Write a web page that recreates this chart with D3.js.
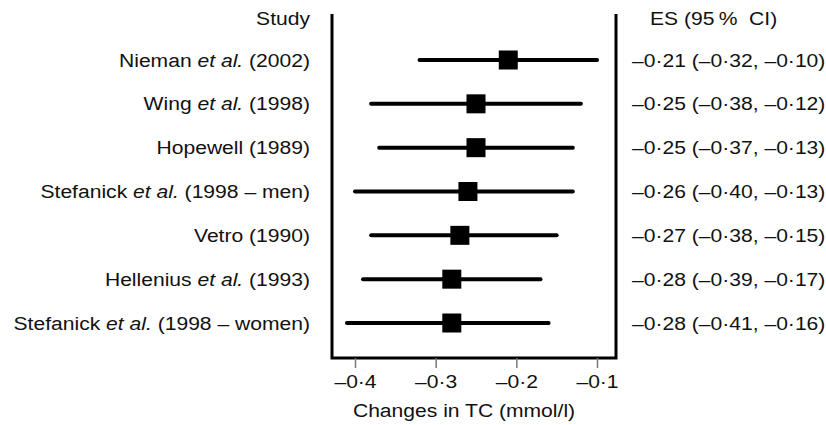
<!DOCTYPE html>
<html>
<head>
<meta charset="utf-8">
<script src="https://cdn.jsdelivr.net/npm/d3@7"></script>
<style>
  body { margin: 0; background: #fff; }
  text { font-family: "Liberation Sans", Arial, sans-serif; fill: #111; }
</style>
</head>
<body>
<div id="chart"></div>
<script>
// study labels: [plain, italic, plain]
var studies = [
  ["Nieman ", "et al.", " (2002)"],
  ["Wing ", "et al.", " (1998)"],
  ["Hopewell (1989)", "", ""],
  ["Stefanick ", "et al.", " (1998 \u2013 men)"],
  ["Vetro (1990)", "", ""],
  ["Hellenius ", "et al.", " (1993)"],
  ["Stefanick ", "et al.", " (1998 \u2013 women)"]
];
var es    = [-0.21, -0.25, -0.25, -0.26, -0.27, -0.28, -0.28];
var lower = [-0.32, -0.38, -0.37, -0.40, -0.38, -0.39, -0.41];
var upper = [-0.10, -0.12, -0.13, -0.13, -0.15, -0.17, -0.16];
var ticks = [-0.4, -0.3, -0.2, -0.1];

var width = 826, height = 425;
var fontSize = 19, stretch = 1.11;

var svg = d3.select("#chart").append("svg")
  .attr("width", width)
  .attr("height", height);

var x = d3.scaleLinear().domain([-0.4, -0.1]).range([355, 597]);
var y = d3.scalePoint().domain(d3.range(studies.length)).range([60, 323]);

var frameLeft = 332, frameRight = 616, frameTop = 14, frameBottom = 358;

// the text in the original is a little wider than Arial, so stretch it
function place(px, py) {
  return `translate(${px},${py}) scale(${stretch},1)`;
}

// frame
svg.append("path")
  .attr("d", `M${frameLeft},${frameTop}V${frameBottom}H${frameRight}V${frameTop}`)
  .attr("fill", "none")
  .attr("stroke", "#000")
  .attr("stroke-width", 3);

// axis
var xAxis = d3.axisBottom(x)
  .tickValues(ticks)
  .tickSize(10)
  .tickFormat(d => "\u2013" + d3.format(".1f")(Math.abs(d)).replace(".", "\u00b7"));

var axisG = svg.append("g")
  .attr("transform", `translate(0, ${frameBottom})`)
  .call(xAxis);
axisG.select(".domain").remove();
axisG.selectAll(".tick line").attr("stroke", "#777").attr("stroke-width", 1.5);
axisG.selectAll(".tick text")
  .attr("y", 0)
  .attr("dy", 0)
  .attr("transform", place(0, 30))
  .attr("font-size", fontSize)
  .attr("font-family", "Liberation Sans, Arial, sans-serif")
  .attr("fill", "#111");

svg.append("text")
  .attr("transform", place(464, 417))
  .attr("text-anchor", "middle")
  .attr("font-size", fontSize)
  .text("Changes in TC (mmol/l)");

// headers
svg.append("text")
  .attr("transform", place(310, 18))
  .attr("dy", "0.35em")
  .attr("text-anchor", "end").attr("font-size", fontSize)
  .text("Study");
svg.append("text")
  .attr("transform", place(650, 18))
  .attr("dy", "0.35em")
  .attr("font-size", fontSize)
  .text("ES (95\u2009% \u00a0CI)");

// study labels
var labels = svg.selectAll(".study")
  .data(studies)
  .enter()
  .append("text")
  .attr("class", "study")
  .attr("transform", (d, i) => place(310, y(i)))
  .attr("dy", "0.35em")
  .attr("text-anchor", "end")
  .attr("font-size", fontSize);
labels.append("tspan").text(d => d[0]);
labels.append("tspan").attr("font-style", "italic").text(d => d[1]);
labels.append("tspan").text(d => d[2]);

// CI lines
svg.selectAll(".ci")
  .data(es)
  .enter()
  .append("line")
  .attr("x1", (d, i) => x(lower[i]))
  .attr("x2", (d, i) => x(upper[i]))
  .attr("y1", (d, i) => y(i))
  .attr("y2", (d, i) => y(i))
  .attr("stroke", "#000")
  .attr("stroke-width", 4)
  .attr("stroke-linecap", "round");

// squares
var sq = 19;
svg.selectAll(".es")
  .data(es)
  .enter()
  .append("rect")
  .attr("x", d => x(d) - sq / 2)
  .attr("y", (d, i) => y(i) - sq / 2)
  .attr("width", sq)
  .attr("height", sq)
  .attr("fill", "#000");

// ES text
function fmt(v) {
  return "\u2013" + d3.format(".2f")(Math.abs(v)).replace(".", "\u00b7");
}
svg.selectAll(".estext")
  .data(es)
  .enter()
  .append("text")
  .attr("transform", (d, i) => place(632, y(i)))
  .attr("dy", "0.35em")
  .attr("font-size", fontSize)
  .text((d, i) => `${fmt(d)} (${fmt(lower[i])}, ${fmt(upper[i])})`);
</script>
</body>
</html>
